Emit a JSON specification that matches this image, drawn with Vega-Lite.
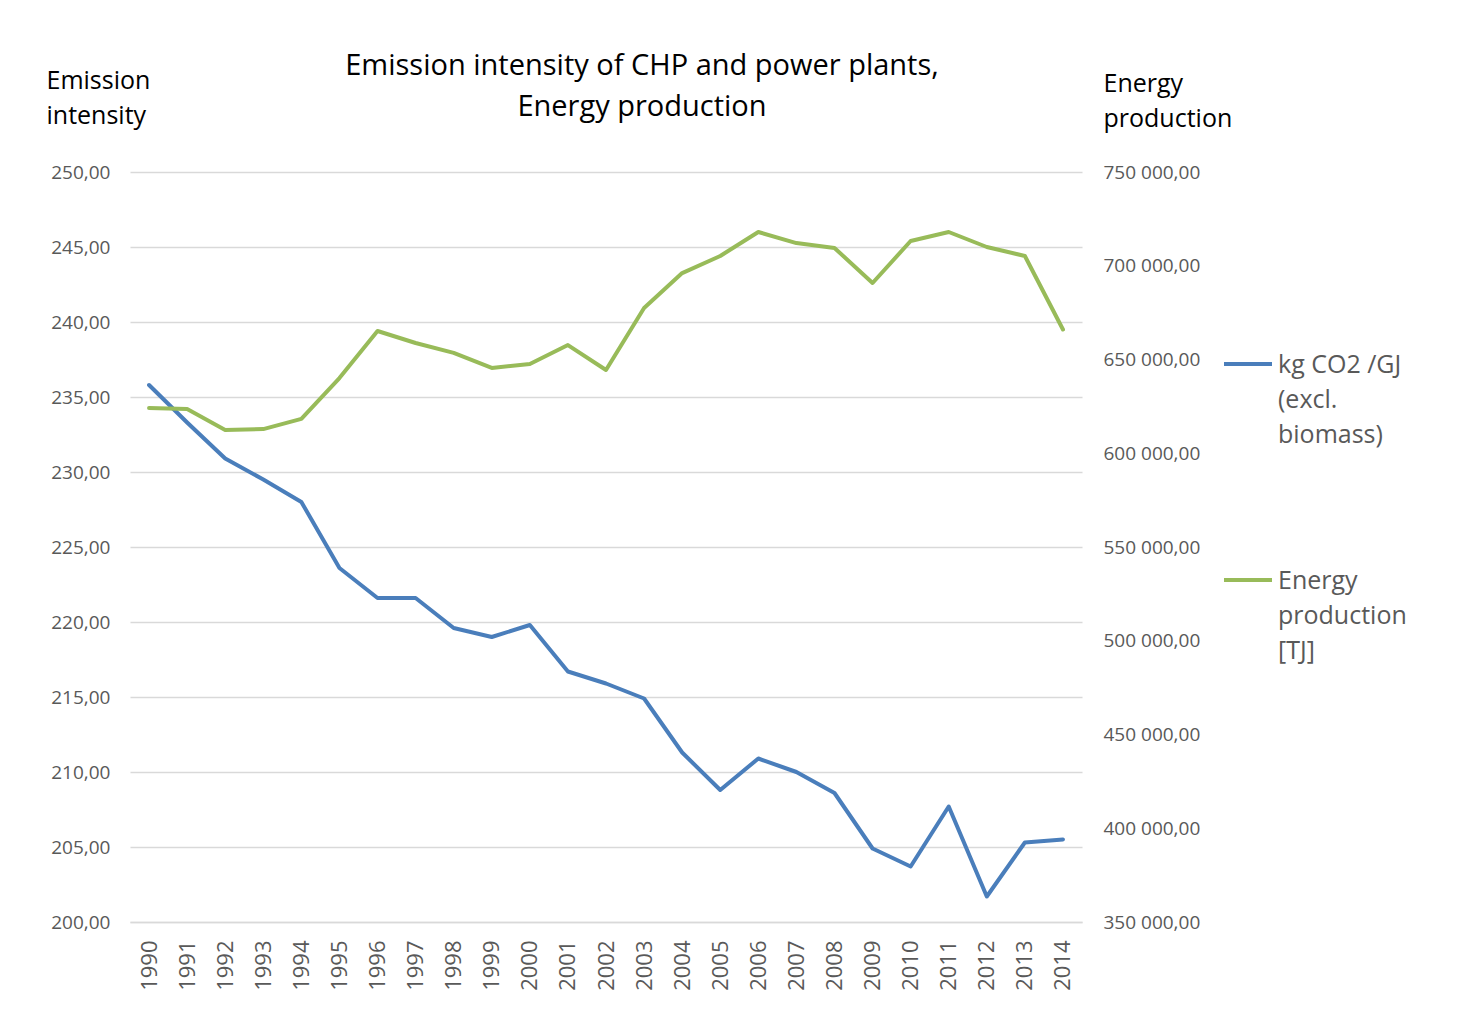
{
  "$schema": "https://vega.github.io/schema/vega-lite/v6.json",
  "width": 952,
  "height": 750,
  "autosize": {"type": "none"},
  "padding": {"left": 130, "top": 172, "right": 397, "bottom": 101},
  "background": "white",
  "config": {
    "locale": {"number": {"decimal": ",", "thousands": " ", "grouping": [3], "currency": ["", ""]}},
    "view": {"stroke": null},
    "font": "Open Sans"
  },
  "title": {
    "text": ["Emission intensity of CHP and power plants,", "Energy production"],
    "font": "Open Sans",
    "fontSize": 29,
    "fontWeight": "normal",
    "color": "#000000",
    "anchor": "middle",
    "frame": "group",
    "dx": 36,
    "offset": -54,
    "lineHeight": 41
  },
  "data": {
    "values": [
      {"year": "1990", "series": "kg CO2 /GJ|(excl.|biomass)", "value": 235.8},
      {"year": "1991", "series": "kg CO2 /GJ|(excl.|biomass)", "value": 233.3},
      {"year": "1992", "series": "kg CO2 /GJ|(excl.|biomass)", "value": 230.9},
      {"year": "1993", "series": "kg CO2 /GJ|(excl.|biomass)", "value": 229.5},
      {"year": "1994", "series": "kg CO2 /GJ|(excl.|biomass)", "value": 228.0},
      {"year": "1995", "series": "kg CO2 /GJ|(excl.|biomass)", "value": 223.6},
      {"year": "1996", "series": "kg CO2 /GJ|(excl.|biomass)", "value": 221.6},
      {"year": "1997", "series": "kg CO2 /GJ|(excl.|biomass)", "value": 221.6},
      {"year": "1998", "series": "kg CO2 /GJ|(excl.|biomass)", "value": 219.6},
      {"year": "1999", "series": "kg CO2 /GJ|(excl.|biomass)", "value": 219.0},
      {"year": "2000", "series": "kg CO2 /GJ|(excl.|biomass)", "value": 219.8},
      {"year": "2001", "series": "kg CO2 /GJ|(excl.|biomass)", "value": 216.7},
      {"year": "2002", "series": "kg CO2 /GJ|(excl.|biomass)", "value": 215.9},
      {"year": "2003", "series": "kg CO2 /GJ|(excl.|biomass)", "value": 214.9},
      {"year": "2004", "series": "kg CO2 /GJ|(excl.|biomass)", "value": 211.3},
      {"year": "2005", "series": "kg CO2 /GJ|(excl.|biomass)", "value": 208.8},
      {"year": "2006", "series": "kg CO2 /GJ|(excl.|biomass)", "value": 210.9},
      {"year": "2007", "series": "kg CO2 /GJ|(excl.|biomass)", "value": 210.0},
      {"year": "2008", "series": "kg CO2 /GJ|(excl.|biomass)", "value": 208.6},
      {"year": "2009", "series": "kg CO2 /GJ|(excl.|biomass)", "value": 204.9},
      {"year": "2010", "series": "kg CO2 /GJ|(excl.|biomass)", "value": 203.7},
      {"year": "2011", "series": "kg CO2 /GJ|(excl.|biomass)", "value": 207.7},
      {"year": "2012", "series": "kg CO2 /GJ|(excl.|biomass)", "value": 201.7},
      {"year": "2013", "series": "kg CO2 /GJ|(excl.|biomass)", "value": 205.3},
      {"year": "2014", "series": "kg CO2 /GJ|(excl.|biomass)", "value": 205.5},
      {"year": "1990", "series": "Energy|production|[TJ]", "value": 624100},
      {"year": "1991", "series": "Energy|production|[TJ]", "value": 623600},
      {"year": "1992", "series": "Energy|production|[TJ]", "value": 612400},
      {"year": "1993", "series": "Energy|production|[TJ]", "value": 612900},
      {"year": "1994", "series": "Energy|production|[TJ]", "value": 618300},
      {"year": "1995", "series": "Energy|production|[TJ]", "value": 640100},
      {"year": "1996", "series": "Energy|production|[TJ]", "value": 665200},
      {"year": "1997", "series": "Energy|production|[TJ]", "value": 658800},
      {"year": "1998", "series": "Energy|production|[TJ]", "value": 653500},
      {"year": "1999", "series": "Energy|production|[TJ]", "value": 645500},
      {"year": "2000", "series": "Energy|production|[TJ]", "value": 647600},
      {"year": "2001", "series": "Energy|production|[TJ]", "value": 657700},
      {"year": "2002", "series": "Energy|production|[TJ]", "value": 644400},
      {"year": "2003", "series": "Energy|production|[TJ]", "value": 677500},
      {"year": "2004", "series": "Energy|production|[TJ]", "value": 696100},
      {"year": "2005", "series": "Energy|production|[TJ]", "value": 705200},
      {"year": "2006", "series": "Energy|production|[TJ]", "value": 718000},
      {"year": "2007", "series": "Energy|production|[TJ]", "value": 712100},
      {"year": "2008", "series": "Energy|production|[TJ]", "value": 709500},
      {"year": "2009", "series": "Energy|production|[TJ]", "value": 690800},
      {"year": "2010", "series": "Energy|production|[TJ]", "value": 713200},
      {"year": "2011", "series": "Energy|production|[TJ]", "value": 718000},
      {"year": "2012", "series": "Energy|production|[TJ]", "value": 710000},
      {"year": "2013", "series": "Energy|production|[TJ]", "value": 705200},
      {"year": "2014", "series": "Energy|production|[TJ]", "value": 666000}
    ]
  },
  "encoding": {
    "x": {
      "field": "year",
      "type": "ordinal",
      "scale": {"type": "point", "padding": 0.5},
      "axis": {
        "title": null,
        "labelAngle": -90,
        "labelFontSize": 22,
        "labelColor": "#595959",
        "labelPadding": 18,
        "ticks": false,
        "domainColor": "#d9d9d9",
        "domainWidth": 1.5,
        "grid": false
      }
    }
  },
  "layer": [
    {
      "transform": [{"filter": "datum.series == 'kg CO2 /GJ|(excl.|biomass)'"}],
      "mark": {"type": "line", "strokeWidth": 4, "strokeCap": "round", "strokeJoin": "round"},
      "encoding": {
        "y": {
          "field": "value",
          "type": "quantitative",
          "scale": {"domain": [200, 250], "nice": false, "zero": false},
          "axis": {
            "orient": "left",
            "values": [200, 205, 210, 215, 220, 225, 230, 235, 240, 245, 250],
            "format": ".2f",
            "grid": true,
            "gridColor": "#d9d9d9",
            "gridWidth": 1.5,
            "domain": false,
            "ticks": false,
            "labelPadding": 20,
            "labelFontSize": 19,
            "labelColor": "#595959",
            "title": ["Emission", "intensity"],
            "titleAngle": 0,
            "titleAlign": "left",
            "titleBaseline": "top",
            "titleX": -84,
            "titleY": -104,
            "titleFontSize": 25,
            "titleFontWeight": "normal",
            "titleColor": "#000000",
            "titleLineHeight": 35
          }
        },
        "color": {
          "field": "series",
          "type": "nominal",
          "scale": {
            "domain": ["kg CO2 /GJ|(excl.|biomass)", "Energy|production|[TJ]"],
            "range": ["#4a7ebb", "#98bb59"]
          },
          "legend": {
            "orient": "none",
            "legendX": 1092,
            "legendY": 166,
            "title": null,
            "labelExpr": "split(replace(datum.label, 'Energy', '\u00a0Energy'), '|')",
            "labelFontSize": 25,
            "labelColor": "#595959",
            "labelLimit": 400,
            "labelOffset": 4,
            "symbolType": "stroke",
            "symbolSize": 2304,
            "symbolStrokeWidth": 4,
            "rowPadding": 106,
            "encode": {
              "labels": {
                "update": {
                  "lineHeight": {"value": 35},
                  "baseline": {"value": "alphabetic"},
                  "dy": {"value": 9}
                }
              }
            }
          }
        }
      }
    },
    {
      "transform": [{"filter": "datum.series == 'Energy|production|[TJ]'"}],
      "mark": {"type": "line", "strokeWidth": 4, "strokeCap": "round", "strokeJoin": "round"},
      "encoding": {
        "y": {
          "field": "value",
          "type": "quantitative",
          "scale": {"domain": [350000, 750000], "nice": false, "zero": false},
          "axis": {
            "orient": "right",
            "values": [350000, 400000, 450000, 500000, 550000, 600000, 650000, 700000, 750000],
            "format": ",.2f",
            "grid": false,
            "domain": false,
            "ticks": false,
            "labelPadding": 21,
            "labelFontSize": 19,
            "labelColor": "#595959",
            "title": ["Energy", "production"],
            "titleAngle": 0,
            "titleAlign": "left",
            "titleBaseline": "top",
            "titleX": 21,
            "titleY": -101,
            "titleFontSize": 25,
            "titleFontWeight": "normal",
            "titleColor": "#000000",
            "titleLineHeight": 35
          }
        },
        "color": {"field": "series", "type": "nominal"}
      }
    }
  ],
  "resolve": {"scale": {"y": "independent", "color": "shared"}}
}
